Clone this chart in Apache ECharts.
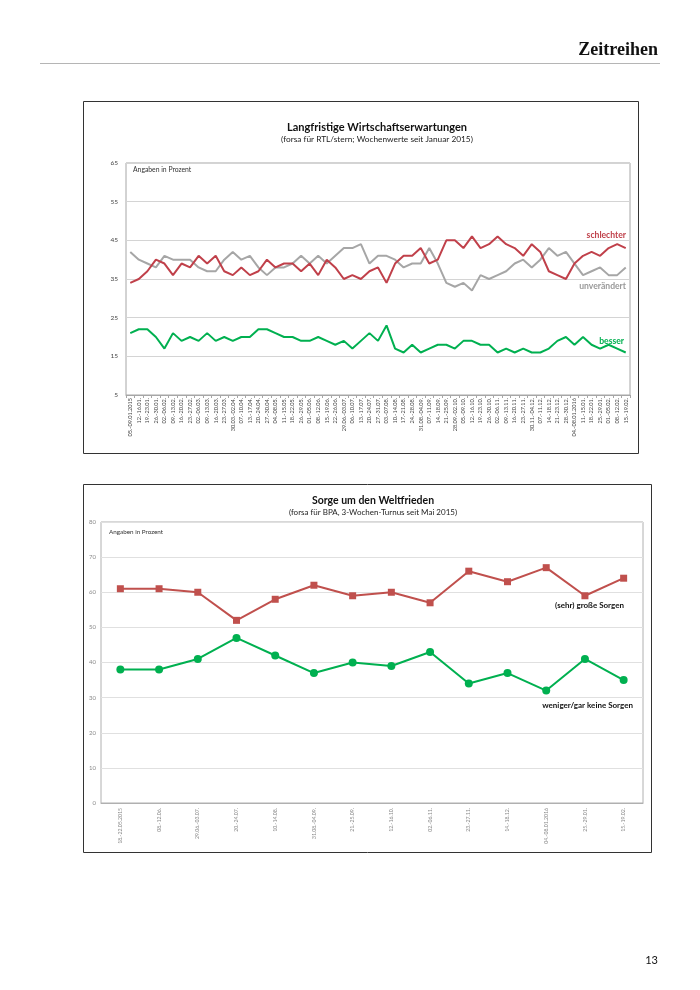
<!DOCTYPE html>
<html>
<head>
<meta charset="utf-8">
<script src="https://cdn.jsdelivr.net/npm/echarts@6/dist/echarts.min.js"></script>
<style>
html,body{margin:0;padding:0;background:#fff;}
#main{width:700px;height:990px;}
</style>
</head>
<body>
<div id="main"></div>
<script>
// ---- Chart 1: Langfristige Wirtschaftserwartungen ----
const weeks = ['05.-09.01.2015','12.-16.01.','19.-23.01.','26.-30.01.','02.-06.02.','09.-13.02.','16.-20.02.','23.-27.02.','02.-06.03.','09.-13.03.','16.-20.03.','23.-27.03.','30.03.-02.04.','07.-10.04.','13.-17.04.','20.-24.04.','27.-30.04.','04.-08.05.','11.-15.05.','18.-22.05.','26.-29.05.','01.-05.06.','08.-12.06.','15.-19.06.','22.-26.06.','29.06.-03.07.','06.-10.07.','13.-17.07.','20.-24.07.','27.-31.07.','03.-07.08.','10.-14.08.','17.-21.08.','24.-28.08.','31.08.-04.09.','07.-11.09.','14.-18.09.','21.-25.09.','28.09.-02.10.','05.-09.10.','12.-16.10.','19.-23.10.','26.-30.10.','02.-06.11.','09.-13.11.','16.-20.11.','23.-27.11.','30.11.-04.12.','07.-11.12.','14.-18.12.','21.-23.12.','28.-30.12.','04.-08.01.2016','11.-15.01.','18.-22.01.','25.-29.01.','01.-05.02.','08.-12.02.','15.-19.02.'];
const schlechter = [34,35,37,40,39,36,39,38,41,39,41,37,36,38,36,37,40,38,39,39,37,39,36,40,38,35,36,35,37,38,34,39,41,41,43,39,40,45,45,43,46,43,44,46,44,43,41,44,42,37,36,35,39,41,42,41,43,44,43];
const unveraendert = [42,40,39,38,41,40,40,40,38,37,37,40,42,40,41,38,36,38,38,39,41,39,41,39,41,43,43,44,39,41,41,40,38,39,39,43,39,34,33,34,32,36,35,36,37,39,40,38,40,43,41,42,39,36,37,38,36,36,38];
const besser = [21,22,22,20,17,21,19,20,19,21,19,20,19,20,20,22,22,21,20,20,19,19,20,19,18,19,17,19,21,19,23,17,16,18,16,17,18,18,17,19,19,18,18,16,17,16,17,16,16,17,19,20,18,20,18,17,18,17,16];
const ticks1 = {min: 5, max: 65, interval: 10};

// ---- Chart 2: Sorge um den Weltfrieden ----
const turns = ['18.-22.05.2015','08.-12.06.','29.06.-03.07.','20.-24.07.','10.-14.08.','31.08.-04.09.','21.-25.09.','12.-16.10.','02.-06.11.','23.-27.11.','14.-18.12.','04.-08.01.2016','25.-29.01.','15.-19.02.'];
const grosseSorgen = [61,61,60,52,58,62,59,60,57,66,63,67,59,64];
const wenigerSorgen = [38,38,41,47,42,37,40,39,43,34,37,32,41,35];
const ticks2 = {min: 0, max: 80, interval: 10};

const RED = '#c0404a';
const GRAY = '#a6a6a6';
const GREEN = '#00b050';
const FONT = 'Lato, "Open Sans", sans-serif';

const chart = echarts.init(document.getElementById('main'), null, {renderer: 'canvas'});

function txt(x, y, text, font, fill, align, valign) {
  return {type: 'text', x: x, y: y, silent: true, z: 100,
    style: {text: text, font: font, fill: fill, textAlign: align || 'left', textVerticalAlign: valign || 'middle'}};
}

const option = {
  animation: false,
  backgroundColor: '#ffffff',
  grid: [
    {left: 126, top: 163, width: 504, height: 232, show: true, borderColor: '#a6a6a6', borderWidth: 1},
    {left: 101, top: 522, width: 542, height: 281, show: true, borderColor: '#b0b0b0', borderWidth: 1}
  ],
  xAxis: [
    {type: 'category', gridIndex: 0, data: weeks, boundaryGap: true,
      axisLine: {show: true, lineStyle: {color: '#a6a6a6'}},
      axisTick: {show: true, length: 3, lineStyle: {color: '#a6a6a6'}},
      axisLabel: {interval: 0, rotate: 90, fontSize: 5.6, color: '#444', fontFamily: FONT, margin: 3}},
    {type: 'category', gridIndex: 1, data: turns, boundaryGap: true,
      axisLine: {show: true, lineStyle: {color: '#b0b0b0'}},
      axisTick: {show: false},
      axisLabel: {interval: 0, rotate: 90, fontSize: 5.2, color: '#8a8a8a', fontFamily: FONT, margin: 5}}
  ],
  yAxis: [
    {type: 'value', gridIndex: 0, min: ticks1.min, max: ticks1.max, interval: ticks1.interval,
      axisLine: {show: false}, axisTick: {show: false},
      axisLabel: {fontSize: 6.5, color: '#444', fontFamily: FONT, margin: 8},
      splitLine: {lineStyle: {color: '#d4d4d4', width: 1}}},
    {type: 'value', gridIndex: 1, min: ticks2.min, max: ticks2.max, interval: ticks2.interval,
      axisLine: {show: false}, axisTick: {show: false},
      axisLabel: {fontSize: 6, color: '#8a8a8a', fontFamily: FONT, margin: 5},
      splitLine: {lineStyle: {color: '#e0e0e0', width: 1}}}
  ],
  series: [
    {name: 'unverändert', type: 'line', xAxisIndex: 0, yAxisIndex: 0, data: unveraendert,
      showSymbol: false, symbol: 'none', lineStyle: {color: GRAY, width: 2}, z: 2},
    {name: 'schlechter', type: 'line', xAxisIndex: 0, yAxisIndex: 0, data: schlechter,
      showSymbol: false, symbol: 'none', lineStyle: {color: RED, width: 2}, z: 3},
    {name: 'besser', type: 'line', xAxisIndex: 0, yAxisIndex: 0, data: besser,
      showSymbol: false, symbol: 'none', lineStyle: {color: GREEN, width: 2}, z: 3},
    {name: '(sehr) große Sorgen', type: 'line', xAxisIndex: 1, yAxisIndex: 1, data: grosseSorgen,
      symbol: 'rect', symbolSize: 7, itemStyle: {color: '#c0504d'}, lineStyle: {color: '#c0504d', width: 2}},
    {name: 'weniger/gar keine Sorgen', type: 'line', xAxisIndex: 1, yAxisIndex: 1, data: wenigerSorgen,
      symbol: 'circle', symbolSize: 8, itemStyle: {color: GREEN}, lineStyle: {color: GREEN, width: 2}}
  ],
  graphic: [
    // page header
    txt(658, 50, 'Zeitreihen', 'bold 18px "Liberation Serif", "DejaVu Serif", serif', '#111', 'right'),
    {type: 'line', silent: true, shape: {x1: 40, y1: 63.5, x2: 660, y2: 63.5}, style: {stroke: '#b5b5b5', lineWidth: 1}},
    // outer boxes
    {type: 'rect', silent: true, shape: {x: 83.5, y: 101.5, width: 555, height: 352}, style: {fill: 'none', stroke: '#333', lineWidth: 1}},
    {type: 'rect', silent: true, shape: {x: 83.5, y: 484.5, width: 568, height: 368}, style: {fill: 'none', stroke: '#333', lineWidth: 1}},
    // chart 1 titles
    txt(377, 127, 'Langfristige Wirtschaftserwartungen', 'bold 11px ' + FONT, '#111', 'center'),
    txt(377, 139, '(forsa für RTL/stern; Wochenwerte seit Januar 2015)', '8.3px ' + FONT, '#222', 'center'),
    txt(133, 170, 'Angaben in Prozent', '6.8px ' + FONT, '#333', 'left'),
    txt(626, 235.5, 'schlechter', 'bold 8.6px ' + FONT, RED, 'right'),
    txt(626, 286, 'unverändert', 'bold 8.6px ' + FONT, '#999', 'right'),
    txt(624, 341, 'besser', 'bold 8.6px ' + FONT, GREEN, 'right'),
    // chart 2 titles
    txt(373, 501, 'Sorge um den Weltfrieden', 'bold 10.5px ' + FONT, '#111', 'center'),
    txt(373, 512.5, '(forsa für BPA, 3-Wochen-Turnus seit Mai 2015)', '8px ' + FONT, '#222', 'center'),
    txt(109, 532, 'Angaben in Prozent', '6.3px ' + FONT, '#333', 'left'),
    txt(624, 605, '(sehr) große Sorgen', 'bold 8px ' + FONT, '#111', 'right'),
    txt(633, 705, 'weniger/gar keine Sorgen', 'bold 8px ' + FONT, '#111', 'right'),
    // page number
    txt(658, 960, '13', '11px ' + FONT, '#111', 'right')
  ]
};
chart.setOption(option);
</script>
</body>
</html>
